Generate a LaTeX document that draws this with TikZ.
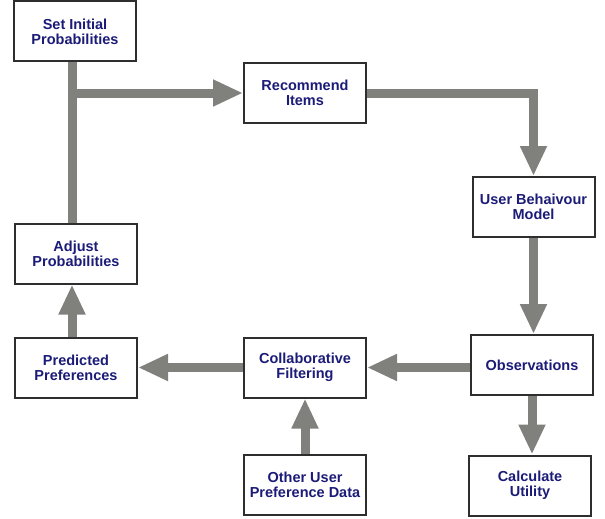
\documentclass[tikz,border=0pt]{standalone}
\usepackage{fontspec}
\setmainfont{Liberation Sans}
\usetikzlibrary{arrows.meta}
\definecolor{navy}{HTML}{1C1C78}
\definecolor{arrowgray}{HTML}{80807C}
\definecolor{boxline}{HTML}{2E2E2E}
\begin{document}
\begin{tikzpicture}[x=1pt,y=-1pt,
  box/.style={draw=boxline,line width=2pt,fill=white,minimum width=122pt,minimum height=60pt,
    inner sep=0pt,align=center,text=navy,font=\fontsize{14.5}{15}\selectfont\bfseries},
  flow/.style={draw=arrowgray,line width=9pt,-{Triangle[length=30pt,width=25pt]}},
  plain/.style={draw=arrowgray,line width=9pt}]
\useasboundingbox (0,0) rectangle (605,519);
\node[box] (si) at (75,31.5) {Set Initial\\Probabilities};
\node[box] (ri) at (305,93) {Recommend\\Items};
\node[box] (ubm) at (533.5,207) {User Behaivour\\Model};
\node[box] (adj) at (76,253.5) {Adjust\\Probabilities};
\node[box] (pp) at (76,367.5) {Predicted\\Preferences};
\node[box] (cf) at (305,367.5) {Collaborative\\Filtering};
\node[box] (obs) at (532,365) {Observations};
\node[box] (oup) at (305,484.5) {Other User\\Preference Data};
\node[box] (cu) at (530,485.5) {Calculate\\Utility};
\coordinate (trunk) at (72,0);
\coordinate (branch) at (72,93);
\path[plain] (si.south -| trunk) -- (adj.north -| trunk);
\path[flow] (branch) -- (ri.west |- branch);
\path[flow] (ri.east) -| (ubm.north);
\path[flow] (ubm.south) -- (ubm.south |- obs.north);
\path[flow] (obs.south) -- (obs.south |- cu.north);
\path[flow] (obs.west |- cf.east) -- (cf.east);
\path[flow] (cf.west) -- (pp.east);
\path[flow] (oup.north) -- (cf.south);
\path[flow] (pp.north -| trunk) -- (adj.south -| trunk);
\end{tikzpicture}
\end{document}
